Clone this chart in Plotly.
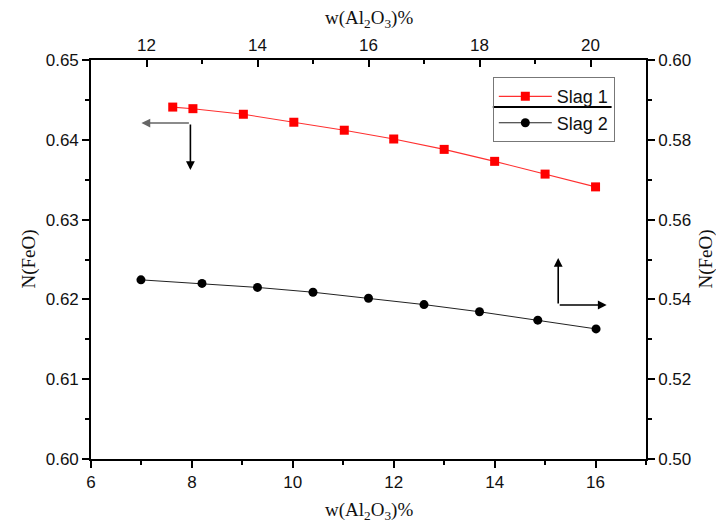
import plotly.graph_objects as go

# ---------------- data ----------------
slag1_x = [7.62, 8.02, 9.02, 10.02, 11.02, 12.0, 13.0, 14.0, 15.0, 16.0]   # bottom axis, w(Al2O3)%
slag1_y = [0.6441, 0.6439, 0.6432, 0.6422, 0.6412, 0.6401, 0.6388, 0.6373, 0.6357, 0.6341]  # left axis
slag2_x = [11.9, 13.0, 14.0, 15.0, 16.0, 17.0, 18.0, 19.05, 20.1]          # top axis, w(Al2O3)%
slag2_y = [0.5449, 0.5440, 0.5430, 0.5418, 0.5403, 0.5387, 0.5369, 0.5348, 0.5326]  # right axis

bottom_range = [6, 17]
top_range = [11, 21]
left_range = [0.60, 0.65]
right_range = [0.50, 0.60]

tick_font = dict(family="Liberation Sans, Arial", size=17, color="#111")
title_font = dict(family="Liberation Serif, Times New Roman", size=19, color="#111")

fig = go.Figure()
fig.add_trace(go.Scatter(
    x=slag1_x, y=slag1_y, name="Slag 1", mode="lines+markers",
    line=dict(color="#ff3030", width=1.1),
    marker=dict(symbol="square", size=9, color="#ff0000"),
    xaxis="x", yaxis="y"))
fig.add_trace(go.Scatter(
    x=slag2_x, y=slag2_y, name="Slag 2", mode="lines+markers",
    line=dict(color="#222", width=1),
    marker=dict(symbol="circle", size=9, color="#000"),
    xaxis="x2", yaxis="y2"))

axis_common = dict(showgrid=False, zeroline=False, showline=True, linecolor="black",
                   linewidth=1.6, tickcolor="black", tickwidth=1.6, tickfont=tick_font)

fig.update_layout(
    width=716, height=526,
    margin=dict(l=91, r=70, t=60, b=67),
    paper_bgcolor="white", plot_bgcolor="white",
    showlegend=True,
    legend=dict(x=0.724, y=0.957, xanchor="left", yanchor="top",
                bordercolor="#777", borderwidth=1, bgcolor="rgba(0,0,0,0)",
                font=dict(family="Liberation Sans, Arial", size=18, color="#111"),
                itemwidth=53, tracegroupgap=0),
    xaxis=dict(range=bottom_range, dtick=2, ticks="outside", ticklen=7,
               minor=dict(dtick=1, ticks="outside", ticklen=4, tickcolor="black", tickwidth=1.6),
               **axis_common),
    yaxis=dict(range=left_range, dtick=0.01, tickformat=".2f", ticks="outside", ticklen=7,
               minor=dict(dtick=0.005, ticks="outside", ticklen=4, tickcolor="black", tickwidth=1.6),
               **axis_common),
    xaxis2=dict(range=top_range, dtick=2, side="top", overlaying="x", anchor="y",
                ticks="inside", ticklen=7,
                minor=dict(dtick=1, ticks="inside", ticklen=4, tickcolor="black", tickwidth=1.6),
                **axis_common),
    yaxis2=dict(range=right_range, dtick=0.02, tickformat=".2f", side="right", overlaying="y",
                anchor="x", ticks="outside", ticklen=7,
                minor=dict(dtick=0.01, ticks="outside", ticklen=4, tickcolor="black", tickwidth=1.6),
                **axis_common),
)

# axis titles as annotations
fig.add_annotation(text="N(FeO)", xref="paper", yref="paper", x=0, y=0.5, xshift=-63,
                   xanchor="center", yanchor="middle",
                   textangle=-90, showarrow=False, font=title_font)
fig.add_annotation(text="N(FeO)", xref="paper", yref="paper", x=1, y=0.5, xshift=59,
                   xanchor="center", yanchor="middle",
                   textangle=-90, showarrow=False, font=title_font)
fig.add_annotation(text="w(Al<sub>2</sub>O<sub>3</sub>)%", xref="paper", yref="paper",
                   x=0.5, y=0, yshift=-52, xanchor="center", yanchor="middle",
                   showarrow=False, font=title_font)
fig.add_annotation(text="w(Al<sub>2</sub>O<sub>3</sub>)%", xref="paper", yref="paper",
                   x=0.5, y=1, yshift=41, xanchor="center", yanchor="middle",
                   showarrow=False, font=title_font)

# direction arrows
arrow_kw = dict(text="", showarrow=True, arrowhead=2, arrowsize=1.1, arrowwidth=1.6,
                xref="x", yref="y", axref="x", ayref="y")
fig.add_annotation(x=7.0, y=0.6421, ax=7.97, ay=0.6421, arrowcolor="#666", **arrow_kw)
fig.add_annotation(x=7.97, y=0.6362, ax=7.97, ay=0.6421, arrowcolor="black", **arrow_kw)
fig.add_annotation(x=15.26, y=0.6252, ax=15.26, ay=0.6193, arrowcolor="black", **arrow_kw)
fig.add_annotation(x=16.22, y=0.6193, ax=15.26, ay=0.6193, arrowcolor="black", **arrow_kw)

# divider line in the legend box
fig.add_shape(type="line", xref="paper", yref="paper", x0=0.724, x1=0.938, y0=0.882, y1=0.882,
              line=dict(color="black", width=2))

fig.write_html("out.html")
